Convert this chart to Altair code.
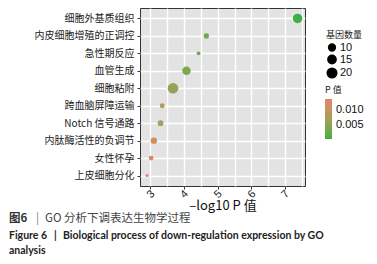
import altair as alt
import pandas as pd

terms = ["细胞外基质组织", "内皮细胞增殖的正调控", "急性期反应", "血管生成", "细胞粘附",
         "跨血脑屏障运输", "Notch 信号通路", "内肽酶活性的负调节", "女性怀孕", "上皮细胞分化"]
neglog_p = [7.37, 4.66, 4.43, 4.07, 3.67, 3.35, 3.30, 3.10, 3.02, 2.90]
gene_count = [20, 6, 3, 16, 25, 5, 7, 9, 5, 2]
p_value = [0.0001, 0.0025, 0.0030, 0.0035, 0.0060, 0.0078, 0.0075, 0.0110, 0.0120, 0.0138]

x_major = [3, 4, 5, 6, 7]
x_minor = [3, 3.5, 4, 4.5, 5, 5.5, 6, 6.5, 7, 7.5]
size_breaks = [10, 15, 20]
p_breaks = [0.005, 0.010]

df = pd.DataFrame({"term": terms, "x": neglog_p, "基因数量": gene_count, "P 值": p_value})

CJK = "Noto Sans CJK SC"
xscale = alt.Scale(domain=[2.69, 7.59], nice=False, zero=False)
yscale = alt.Scale(padding=0.6)

points = alt.Chart(df).mark_circle(opacity=1).encode(
    x=alt.X("x:Q", scale=xscale,
            axis=alt.Axis(values=x_minor, grid=True, gridColor="white", gridWidth=1.4,
                          ticks=False, labels=False, domain=False, title=None, orient="bottom")),
    y=alt.Y("term:N", sort=terms, scale=yscale,
            axis=alt.Axis(title=None, grid=True, gridColor="white", gridWidth=1.5, domain=False,
                          tickSize=3, tickColor="#333", labelFont=CJK, labelFontSize=10,
                          labelColor="#222", labelPadding=3, orient="left")),
    size=alt.Size("基因数量:Q", scale=alt.Scale(range=[10, 113], zero=False),
                  legend=alt.Legend(values=size_breaks, orient="none", legendX=186, legendY=23,
                                    titleFont=CJK, titleFontSize=9, titleFontWeight="normal",
                                    titleColor="#222", labelFontSize=11, labelColor="#111",
                                    symbolFillColor="black", symbolStrokeColor="black",
                                    symbolOpacity=1, rowPadding=-4, labelOffset=2, titlePadding=2)),
    color=alt.Color("P 值:Q",
                    scale=alt.Scale(range=["#3DAF46", "#E8826A"], interpolate="lab", zero=False, nice=False),
                    legend=alt.Legend(values=p_breaks, format=".3f", orient="none", legendX=185, legendY=78,
                                      gradientLength=40, gradientThickness=7, titleFont=CJK,
                                      titleFontSize=9, titleFontWeight="normal", titleColor="#222",
                                      labelFontSize=11, labelColor="#111", labelOffset=4,
                                      gradientStrokeWidth=0, titlePadding=4)),
)

axis_layer = alt.Chart(df).mark_point(opacity=0).encode(
    x=alt.X("x:Q", scale=xscale,
            axis=alt.Axis(values=x_major, grid=False, ticks=True, tickSize=3, tickColor="#333",
                          labelAngle=-45, labelAlign="center", labelBaseline="middle",
                          labelPadding=5, labelFontSize=11, labelColor="#222", domain=False,
                          title="–log10 P 值", titleFont=CJK, titleFontSize=13,
                          titleFontWeight="normal", titleColor="#111", titlePadding=0,
                          orient="bottom")),
)

def txt(s, x, y, size, color, weight="normal", font=CJK):
    return alt.Chart(pd.DataFrame({"t": [s]})).mark_text(
        align="left", baseline="middle", fontSize=size, font=font, fontWeight=weight, color=color
    ).encode(text="t:N", x=alt.value(x), y=alt.value(y))

cap1a = txt("图6", -131, 211, 11.5, "#333", "bold")
cap1b = txt("|", -104, 211, 11.5, "#777")
cap1c = txt("GO 分析下调表达生物学过程", -95, 211, 11.5, "#444")
cap2a = txt("Figure 6", -131, 228, 10.5, "#222", "bold", "Lato")
cap2b = txt("|", -86, 228, 10.5, "#222", "bold", "Lato")
cap2c = txt("Biological process of down-regulation expression by GO", -77, 228, 10.5, "#222", "bold", "Lato")
cap3 = txt("analysis", -131, 243, 10.5, "#222", "bold", "Lato")

chart = alt.layer(points, axis_layer, cap1a, cap1b, cap1c, cap2a, cap2b, cap2c, cap3).resolve_axis(
    x="independent"
).properties(
    width=165, height=178,
    autosize=alt.AutoSizeParams(type="none"),
    padding={"left": 132, "top": 0, "right": 64, "bottom": 70},
    background="white",
).configure_view(fill="#E3E3E3", stroke="#333", strokeWidth=1)

chart.save("out.html", embed_options={"renderer": "svg", "actions": False})
